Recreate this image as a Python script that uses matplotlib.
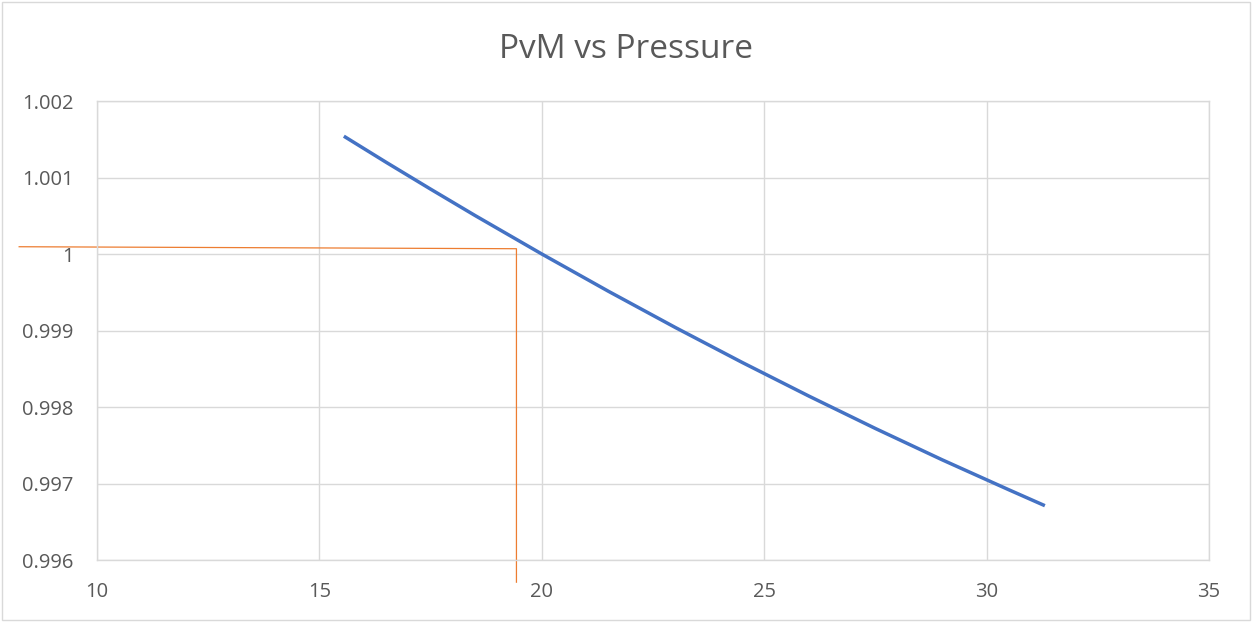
import matplotlib
matplotlib.use("Agg")
import matplotlib.pyplot as plt
from matplotlib.patches import Rectangle

# Data
pressure = [15.55, 16.5, 17.5, 18.5, 20.0, 21.5, 23.0, 24.5, 26.0, 27.5, 29.0, 30.5, 31.31]
pvm = [1.00154, 1.001199, 1.000848, 1.000503, 1.0000, 0.999512, 0.999040, 0.998584,
       0.998144, 0.997719, 0.997310, 0.996918, 0.99671]

ref_x = [8.25, 19.43, 19.43]
ref_y = [1.000095, 1.000069, 0.99571]

x_ticks = [10, 15, 20, 25, 30, 35]
y_ticks = [0.996, 0.997, 0.998, 0.999, 1.0, 1.001, 1.002]
y_labels = ["0.996", "0.997", "0.998", "0.999", "1", "1.001", "1.002"]

plt.rcParams['font.family'] = ['Open Sans', 'DejaVu Sans']

W, H = 1252, 622
fig = plt.figure(figsize=(W / 100, H / 100), dpi=100)
fig.patch.set_facecolor("white")
fig.add_artist(Rectangle((2 / W, 2 / H), 1 - 4 / W, 1 - 4 / H, transform=fig.transFigure,
                         fill=False, edgecolor="#d9d9d9", linewidth=1.0))

ax = fig.add_axes([97 / W, (H - 560) / H, (1209 - 97) / W, (560 - 101) / H])
ax.set_xlim(10, 35)
ax.set_ylim(0.996, 1.002)
ax.set_xticks(x_ticks)
ax.set_yticks(y_ticks)
ax.set_yticklabels(y_labels)
ax.grid(True, color="#d9d9d9", linewidth=1.0)
ax.set_axisbelow(True)
for s in ax.spines.values():
    s.set_color("#d9d9d9")
    s.set_linewidth(1.0)
ax.tick_params(length=0, labelsize=14.5, labelcolor="#595959")
ax.tick_params(axis="y", pad=17)
ax.tick_params(axis="x", pad=16)

ax.plot(pressure, pvm, color="#4472C4", linewidth=2.5, solid_capstyle="butt")
ax.plot(ref_x, ref_y, color="#ED7D31", linewidth=0.9, clip_on=False)

fig.text(0.5, 1 - 49 / H, "PvM vs Pressure", ha="center", va="center",
         fontsize=24, color="#595959")

fig.savefig("out.png", dpi=100, facecolor="white")
